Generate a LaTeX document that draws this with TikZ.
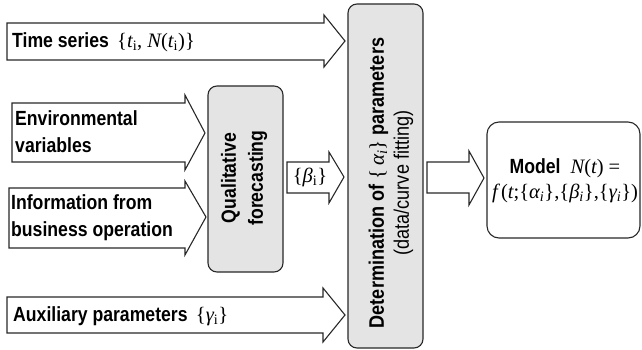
\documentclass[tikz,border=0pt]{standalone}
\usepackage{fontspec}
\setmainfont{Liberation Sans}[FakeStretch=0.86]
\newfontfamily\tms{Liberation Serif}
\newcommand\mv[1]{{\tms\itshape\mdseries #1}}
\newcommand\mr[1]{{\tms\upshape\mdseries #1}}
\newcommand\sub[1]{\textsubscript{\tms\upshape\mdseries #1}}
\newcommand\subit[1]{\textsubscript{\tms\itshape\mdseries #1}}
\definecolor{edge}{RGB}{40,40,40}
\definecolor{boxgray}{RGB}{228,228,228}
\begin{document}
\begin{tikzpicture}[x=1pt,y=-1pt,
  blockarrow/.style={draw=edge,line width=1.1pt,fill=white,line join=miter},
  graybox/.style={draw=edge,line width=1.1pt,fill=boxgray,rounded corners=9pt},
  whitebox/.style={draw=edge,line width=1.1pt,fill=white,rounded corners=12pt},
  label/.style={font=\fontsize{20.5}{27}\selectfont\bfseries,inner sep=0pt,align=left},
  plain/.style={font=\fontsize{20.5}{25}\selectfont,inner sep=0pt,align=center}]
\useasboundingbox (0,0) rectangle (642,350);

% input arrows
\draw[blockarrow] (7,23) -- (324,23) -- (324,15) -- (345,41) -- (324,67) -- (324,60) -- (7,60) -- cycle;
\draw[blockarrow] (12,103) -- (185,103) -- (185,95) -- (205,133) -- (185,170) -- (185,162) -- (12,162) -- cycle;
\draw[blockarrow] (9,188) -- (185,188) -- (185,181) -- (206,217) -- (185,255) -- (185,248) -- (9,248) -- cycle;
\draw[blockarrow] (7,297) -- (323,297) -- (323,288) -- (345,315) -- (323,342) -- (323,333) -- (7,333) -- cycle;

% processing boxes
\draw[graybox] (208,86) rectangle (283,272);
\draw[graybox] (348,4) rectangle (423,348);

% beta arrow and output arrow
\draw[blockarrow] (287,162) -- (329,162) -- (329,152) -- (344,177) -- (329,203) -- (329,193) -- (287,193) -- cycle;
\draw[blockarrow] (427,162) -- (469,162) -- (469,151) -- (484,178) -- (469,205) -- (469,193) -- (427,193) -- cycle;

% model box
\draw[whitebox] (487,122) rectangle (640,238);

% texts
\node[label,anchor=west] (ts) at (12,42) {Time series\, \mr{\{}\mv{t}\sub{i}\mr{, }\mv{N}\mr{(}\mv{t}\sub{i}\mr{)\}}};
\node[label,anchor=west] (env) at (15,132) {Environmental\\variables};
\node[label,anchor=west] (info) at (11,218) {Information from\\business operation};
\node[label,anchor=west] (aux) at (13,316) {Auxiliary parameters\, \mr{\{}\mv{γ}\sub{i}\mr{\}}};
\node[label,align=center,rotate=90] (qual) at (244,178) {Qualitative\\forecasting};
\node[plain] (beta) at (310,177) {\mr{\{}\mv{β}\sub{i}\mr{\}}};
\node[plain,font=\fontsize{21}{25}\selectfont,rotate=90] (det) at (391,183) {\textbf{Determination of} \mr{\{}\,\mv{α}\subit{i}\mr{\}} \textbf{parameters}\\(data/curve fitting)};
\node[plain] (model) at (565,181) {\textbf{Model}\hspace{10pt}\mv{N}\mr{(}\mv{t}\mr{) =}\\\mv{f}\,\mr{(}\mv{t}\mr{;\{}\mv{α}\subit{i}\mr{\},\{}\mv{β}\subit{i}\mr{\},\{}\mv{γ}\subit{i}\mr{\})}};
\end{tikzpicture}
\end{document}
